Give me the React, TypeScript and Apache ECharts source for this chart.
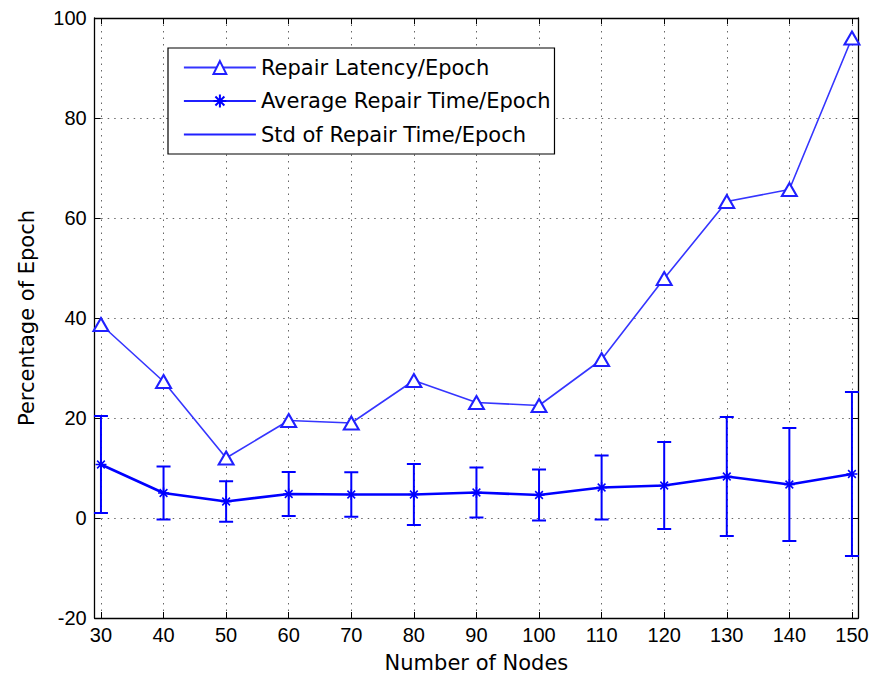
import React, { useEffect, useRef } from 'react';
import * as echarts from 'echarts';

const nodes = [30, 40, 50, 60, 70, 80, 90, 100, 110, 120, 130, 140, 150];
const repairLatency = [38.7, 27.3, 12.0, 19.5, 19.0, 27.5, 23.1, 22.5, 31.7, 47.9, 63.3, 65.7, 96.0];
const avgRepairTime = [10.7, 5.0, 3.3, 4.8, 4.7, 4.7, 5.1, 4.6, 6.1, 6.5, 8.3, 6.7, 8.8];
const stdRepairTime = [9.7, 5.3, 4.05, 4.4, 4.45, 6.1, 5.0, 5.1, 6.4, 8.7, 11.9, 11.3, 16.4];
const xTicks = [30, 40, 50, 60, 70, 80, 90, 100, 110, 120, 130, 140, 150];
const legendNames = ['Repair Latency/Epoch', 'Average Repair Time/Epoch', 'Std of Repair Time/Epoch'];

const STAR = 'path://M5,0L5,10M0,5L10,5M1.5,1.5L8.5,8.5M1.5,8.5L8.5,1.5';

export default function App() {
  const ref = useRef<HTMLDivElement>(null);
  useEffect(() => {
    const chart = echarts.init(ref.current!, null, { renderer: 'svg' });
    const blue = '#0000ff';
    const tickFont = { fontFamily: 'Liberation Sans', fontSize: 20, color: '#000' };
    const gridLine = { show: true, lineStyle: { color: '#666', width: 1, type: [1.5, 5] as any } };
    const axisLine = { show: true, onZero: false, lineStyle: { color: '#000', width: 1.3 } };
    chart.setOption({
      animation: false,
      backgroundColor: '#fff',
      grid: { left: 94.7, right: 16.8, top: 18, bottom: 63, containLabel: false },
      legend: {
        data: [
          { name: legendNames[0], lineStyle: { color: '#3535ff', width: 1.8 } },
          { name: legendNames[1], lineStyle: { color: '#2020ff', width: 1.8 } },
          {
            name: legendNames[2],
            itemStyle: { color: 'rgba(0,0,0,0)', borderColor: 'rgba(0,0,0,0)', borderWidth: 0, opacity: 0 },
            lineStyle: { color: '#2020ff', width: 1.8, opacity: 1 },
          },
        ],
        orient: 'vertical',
        left: 168,
        top: 48,
        padding: [9, 4, 9, 15],
        itemWidth: 72,
        itemHeight: 16,
        itemGap: 12.5,
        borderColor: '#000',
        borderWidth: 1.2,
        backgroundColor: '#fff',
        textStyle: { fontFamily: 'DejaVu Sans', fontSize: 21, lineHeight: 21, color: '#000' },
      },
      xAxis: [
        {
          type: 'value', min: 29, max: 151, position: 'bottom',
          axisLine,
          axisTick: { show: true, inside: true, length: 6, customValues: xTicks, lineStyle: { color: '#000' } },
          axisLabel: { show: true, customValues: xTicks, margin: 7, ...tickFont },
          splitLine: gridLine,
          name: 'Number of Nodes', nameLocation: 'middle', nameGap: 34,
          nameTextStyle: { fontFamily: 'DejaVu Sans', fontSize: 21, color: '#000' },
        },
        {
          type: 'value', min: 29, max: 151, position: 'top',
          axisLine,
          axisTick: { show: true, inside: true, length: 6, customValues: xTicks, lineStyle: { color: '#000' } },
          axisLabel: { show: false },
          splitLine: { show: false },
        },
      ],
      yAxis: [
        {
          type: 'value', min: -20, max: 100, interval: 20, position: 'left',
          axisLine,
          axisTick: { show: true, inside: true, length: 6, lineStyle: { color: '#000' } },
          axisLabel: { show: true, margin: 8, ...tickFont },
          splitLine: gridLine,
          name: 'Percentage of Epoch', nameLocation: 'middle', nameGap: 57,
          nameTextStyle: { fontFamily: 'DejaVu Sans', fontSize: 21, color: '#000' },
        },
        {
          type: 'value', min: -20, max: 100, interval: 20, position: 'right',
          axisLine,
          axisTick: { show: true, inside: true, length: 6, lineStyle: { color: '#000' } },
          axisLabel: { show: false },
          splitLine: { show: false },
        },
      ],
      series: [
        {
          name: 'Std of Repair Time/Epoch-bars',
          type: 'custom',
          xAxisIndex: 0, yAxisIndex: 0,
          encode: { x: 0, y: 1 },
          data: nodes.map((x, i) => [x, avgRepairTime[i], stdRepairTime[i]]),
          z: 2,
          renderItem: (params: any, api: any) => {
            const x = api.value(0);
            const m = api.value(1);
            const s = api.value(2);
            const top = api.coord([x, m + s]);
            const bot = api.coord([x, m - s]);
            const w = 7;
            const st = { stroke: blue, lineWidth: 2 };
            return {
              type: 'group',
              children: [
                { type: 'line', shape: { x1: top[0], y1: top[1], x2: bot[0], y2: bot[1] }, style: st },
                { type: 'line', shape: { x1: top[0] - w, y1: top[1], x2: top[0] + w, y2: top[1] }, style: st },
                { type: 'line', shape: { x1: bot[0] - w, y1: bot[1], x2: bot[0] + w, y2: bot[1] }, style: st },
              ],
            };
          },
        },
        {
          name: legendNames[0],
          type: 'line',
          data: nodes.map((x, i) => [x, repairLatency[i]]),
          symbol: 'emptyTriangle',
          symbolSize: [15, 13],
          showAllSymbol: true,
          lineStyle: { color: '#3535ff', width: 1.6 },
          itemStyle: { color: '#2020ff', borderColor: '#2020ff', borderWidth: 1.6 },
          z: 3,
        },
        {
          name: legendNames[1],
          type: 'line',
          data: nodes.map((x, i) => [x, avgRepairTime[i]]),
          symbol: STAR,
          symbolSize: 11,
          showAllSymbol: true,
          lineStyle: { color: blue, width: 2.6 },
          itemStyle: { color: blue, borderColor: blue, borderWidth: 1.5 },
          z: 4,
        },
        {
          name: legendNames[2],
          type: 'line',
          data: [],
          symbol: 'none',
          lineStyle: { color: blue, width: 1.6 },
          itemStyle: { color: blue },
        },
      ],
    });
    return () => chart.dispose();
  }, []);
  return <div ref={ref} style={{ position: 'fixed', left: 0, top: 0, width: 875, height: 681 }} />;
}
